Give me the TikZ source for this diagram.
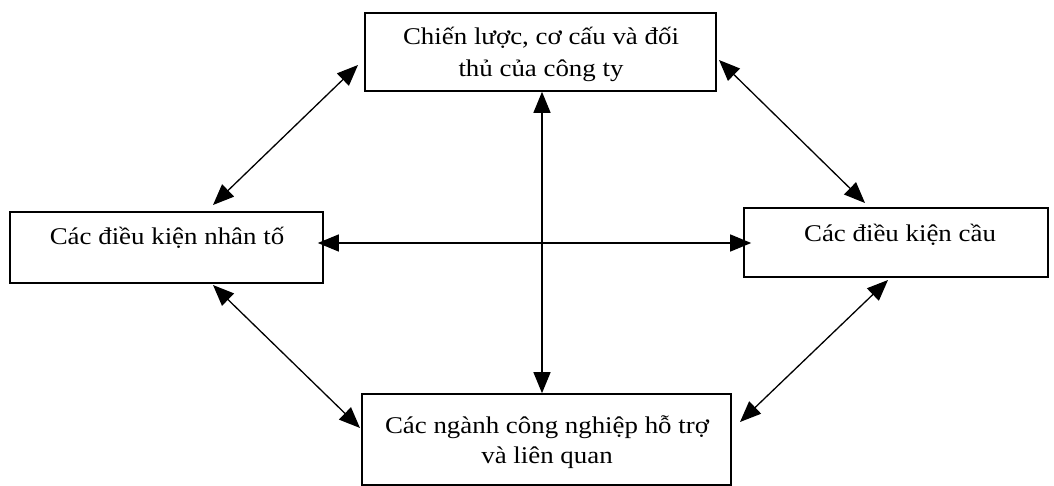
\documentclass[tikz,border=0pt]{standalone}
\usepackage{fontspec}
\setmainfont{Liberation Serif}[FakeStretch=1.12]
\usetikzlibrary{arrows.meta}
\tikzset{
  box/.style={draw=black, line width=1.6pt, rectangle, inner sep=0pt},
  txt/.style={inner sep=0pt, font=\fontsize{24}{31}\selectfont, align=center},
  dbl/.style={line width=1.3pt, {Triangle[length=21pt,width=17pt]}-{Triangle[length=21pt,width=17pt]}}
}
\begin{document}
\begin{tikzpicture}[x=1pt,y=-1pt]
\useasboundingbox (0,0) rectangle (1054,486);
% boxes
\node[box, minimum width=351pt, minimum height=78pt] (T) at (540.5,52) {};
\node[box, minimum width=313pt, minimum height=71pt] (L) at (166.5,247.5) {};
\node[box, minimum width=304pt, minimum height=69pt] (R) at (896,242.5) {};
\node[box, minimum width=369pt, minimum height=91pt] (B) at (546.5,439.5) {};
% texts
\node[txt, anchor=base] (t1) at (541,45) {Chiến lược, cơ cấu và đối};
\node[txt, anchor=base] (t2) at (541,77) {thủ của công ty};
\node[txt, anchor=base] (l1) at (167,245) {Các điều kiện nhân tố};
\node[txt, anchor=base] (r1) at (900,242) {Các điều kiện cầu};
\node[txt, anchor=base] (b1) at (547,433) {Các ngành công nghiệp hỗ trợ};
\node[txt, anchor=base] (b2) at (547,463) {và liên quan};
% connector ends
\coordinate (vx) at (542,0);
\coordinate (hy) at (0,243);
\coordinate (a1) at (213,205);
\coordinate (a2) at (358,65);
\coordinate (b1c) at (719,60);
\coordinate (b2c) at (865,203);
\coordinate (c1) at (213,285);
\coordinate (c2) at (360,428);
\coordinate (d1) at (888,280);
\coordinate (d2) at (740,422);
% connectors
\draw[dbl] (T.south -| vx) -- (B.north -| vx);
\draw[dbl] ([xshift=-6pt]L.east |- hy) -- ([xshift=8pt]R.west |- hy);
\draw[dbl] (a1) -- (a2);
\draw[dbl] (b1c) -- (b2c);
\draw[dbl] (c1) -- (c2);
\draw[dbl] (d1) -- (d2);
\end{tikzpicture}
\end{document}
